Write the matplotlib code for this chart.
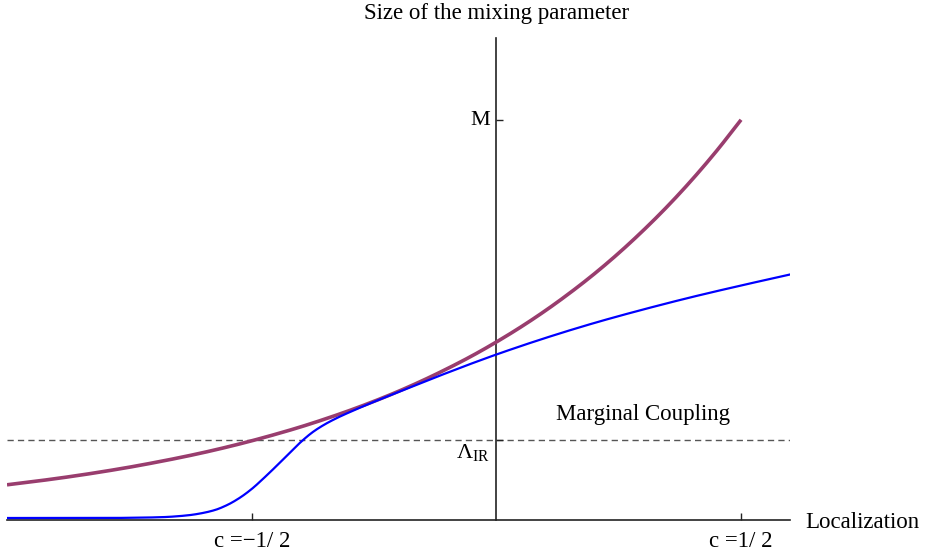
import matplotlib
matplotlib.use("Agg")
import matplotlib.pyplot as plt
import numpy as np

plt.rcParams['font.family'] = ['Liberation Serif', 'DejaVu Serif']
plt.rcParams['mathtext.fontset'] = 'custom'
plt.rcParams['mathtext.rm'] = 'Liberation Serif'
plt.rcParams['mathtext.it'] = 'Liberation Serif:italic'

# localization parameter c
c_vals = [-1.0, -0.95, -0.9, -0.85, -0.8, -0.75, -0.7, -0.65, -0.6, -0.55, -0.5,
          -0.45, -0.4, -0.35, -0.3, -0.25, -0.2, -0.15, -0.1, -0.05, 0.0,
          0.05, 0.1, 0.15, 0.2, 0.25, 0.3, 0.35, 0.4, 0.45, 0.5]
# mixing parameter, exact treatment (purple)
mix_exact = [0.352, 0.382, 0.414, 0.449, 0.487, 0.528, 0.573, 0.621, 0.673,
             0.730, 0.792, 0.859, 0.931, 1.010, 1.095, 1.187, 1.287, 1.396,
             1.514, 1.641, 1.780, 1.930, 2.093, 2.270, 2.461, 2.669, 2.895,
             3.139, 3.404, 3.691, 4.002]

# mixing parameter including IR suppression (blue)
c_blue = [-1.0, -0.9, -0.8, -0.75, -0.7, -0.675, -0.65, -0.625, -0.6, -0.575,
          -0.55, -0.525, -0.5, -0.475, -0.45, -0.425, -0.4, -0.375, -0.35,
          -0.325, -0.3, -0.275, -0.25, -0.2, -0.15, -0.1, -0.05, 0.0,
          0.1, 0.2, 0.3, 0.4, 0.5, 0.6]
mix_blue = [0.02, 0.02, 0.02, 0.022, 0.026, 0.03, 0.038, 0.05, 0.07, 0.10,
            0.15, 0.22, 0.31, 0.42, 0.537, 0.658, 0.778, 0.88, 0.958,
            1.022, 1.078, 1.131, 1.182, 1.28, 1.378, 1.473, 1.566, 1.655,
            1.82, 1.97, 2.105, 2.23, 2.345, 2.455]

lambda_ir = 0.8
m_scale = 4.0
x_ticks = [-0.5, 0.5]
x_tick_labels = ['c =\u22121/ 2', 'c =1/ 2']
y_ticks = [lambda_ir, m_scale]


def smooth_path(x, y, per_seg=12):
    """Monotone cubic Hermite curve through the given points, for drawing."""
    x = np.asarray(x, float)
    y = np.asarray(y, float)
    h = np.diff(x)
    d = np.diff(y) / h
    m = np.zeros_like(y)
    m[0], m[-1] = d[0], d[-1]
    for i in range(1, len(y) - 1):
        if d[i - 1] * d[i] <= 0:
            m[i] = 0.0
        else:
            w1 = 2 * h[i] + h[i - 1]
            w2 = h[i] + 2 * h[i - 1]
            m[i] = (w1 + w2) / (w1 / d[i - 1] + w2 / d[i])
    xs, ys = [], []
    for i in range(len(h)):
        t = np.linspace(0, 1, per_seg, endpoint=(i == len(h) - 1))
        h00 = 2 * t**3 - 3 * t**2 + 1
        h10 = t**3 - 2 * t**2 + t
        h01 = -2 * t**3 + 3 * t**2
        h11 = t**3 - t**2
        xs.append(x[i] + t * h[i])
        ys.append(h00 * y[i] + h10 * h[i] * m[i] + h01 * y[i + 1]
                  + h11 * h[i] * m[i + 1])
    return np.concatenate(xs), np.concatenate(ys)


fig = plt.figure(figsize=(9.26, 5.54), dpi=100)
ax = fig.add_axes([7/926, 34/554, (790-7)/926, (520-38)/554])
ax.set_xlim(-1.0, 0.6)
ax.set_ylim(0, 4.82)

ax.axhline(lambda_ir, color='#555555', lw=1.0, ls=(0, (4.5, 3)), zorder=1)
px, py = smooth_path(c_vals, mix_exact)
ax.plot(px, py, color='#993d6e', lw=2.6, zorder=3, solid_capstyle='butt')
bx, by = smooth_path(c_blue, mix_blue)
ax.plot(bx, by, color='#0000ff', lw=1.6, zorder=4)

for side in ('top', 'right'):
    ax.spines[side].set_visible(False)
ax.spines['left'].set_position(('data', 0))
ax.spines['bottom'].set_position(('data', 0))
for side in ('left', 'bottom'):
    ax.spines[side].set_linewidth(1.2)
    ax.spines[side].set_color('#222222')

ax.set_xticks(x_ticks)
ax.set_xticklabels(x_tick_labels, fontsize=16.5)
ax.set_yticks(y_ticks)
ax.set_yticklabels([])
ax.tick_params(axis='both', direction='in', length=5, width=1.0,
               color='#222222', pad=8)
ax.patch.set_alpha(0)

# y tick labels, placed left of the vertical axis
ax.text(-0.013, m_scale, 'M', fontsize=16, ha='right', va='center')
ax.text(-0.013, lambda_ir - 0.02, r'$\Lambda_{\mathrm{IR}}$', fontsize=16,
        ha='right', va='top')

ax.text(0.3, 0.95, 'Marginal Coupling', fontsize=16.5, ha='center',
        va='bottom')
fig.text(497/926, 1 - 14/554, 'Size of the mixing parameter', fontsize=16.5,
         ha='center', va='center')
fig.text(805/926, 1 - 522/554, 'Localization', fontsize=16.5,
         ha='left', va='center')

fig.savefig('out.png', dpi=100)
